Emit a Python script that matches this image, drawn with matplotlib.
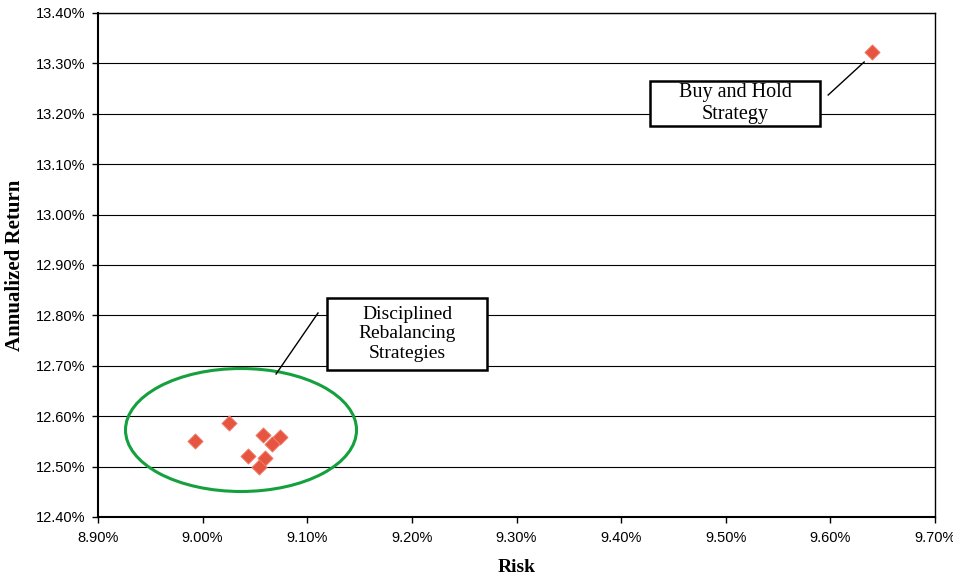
import matplotlib
matplotlib.use("Agg")
import matplotlib.pyplot as plt
from matplotlib.patches import Ellipse, Rectangle
from matplotlib.ticker import FuncFormatter

# Data (percent units)
rebal_risk = [8.993, 9.025, 9.0575, 9.074, 9.066, 9.043, 9.060, 9.054]
rebal_return = [12.551, 12.586, 12.563, 12.559, 12.545, 12.522, 12.518, 12.500]
bh_risk = [9.640]
bh_return = [13.323]

x_ticks = [8.90, 9.00, 9.10, 9.20, 9.30, 9.40, 9.50, 9.60, 9.70]
y_ticks = [12.40, 12.50, 12.60, 12.70, 12.80, 12.90, 13.00, 13.10, 13.20, 13.30, 13.40]

fig = plt.figure(figsize=(9.54, 5.79), dpi=100)
ax = fig.add_axes([98/954, 62/579, (935-98)/954, (517-13)/579])

ax.set_xlim(8.90, 9.70)
ax.set_ylim(12.40, 13.40)
ax.set_xticks(x_ticks)
ax.set_yticks(y_ticks)
fmt = FuncFormatter(lambda v, p: f"{v:.2f}%")
ax.xaxis.set_major_formatter(fmt)
ax.yaxis.set_major_formatter(fmt)
ax.tick_params(axis='both', direction='out', length=4, width=1, labelsize=10.5, colors='black')
for lab in ax.get_xticklabels() + ax.get_yticklabels():
    lab.set_fontfamily('Liberation Sans')
ax.tick_params(axis='y', pad=5)
ax.tick_params(axis='x', pad=6)

ax.grid(axis='y', color='black', linewidth=0.8)
ax.set_axisbelow(True)
for s in ax.spines.values():
    s.set_linewidth(1.0)
ax.spines['left'].set_linewidth(1.5)
ax.spines['bottom'].set_linewidth(1.5)

mcolor = '#E5553F'
ax.scatter(rebal_risk, rebal_return, marker='D', s=60, color=mcolor,
           edgecolor='#F0806E', linewidth=0.6, zorder=5)
ax.scatter(bh_risk, bh_return, marker='D', s=60, color=mcolor,
           edgecolor='#F0806E', linewidth=0.6, zorder=5)

# Ellipse around rebalancing strategies
ell = Ellipse((9.0367, 12.5726), width=0.2208, height=0.244, fill=False,
              edgecolor='#14A03C', linewidth=2.2, zorder=4)
ax.add_patch(ell)

serif = 'Liberation Serif'

# Rebalancing label box
ax.add_patch(Rectangle((9.1189, 12.6917), 0.1530, 0.1428, facecolor='white',
                       edgecolor='black', linewidth=1.8, zorder=6))
ax.text(9.1954, 12.7631, "Disciplined\nRebalancing\nStrategies", ha='center', va='center',
        fontsize=14, family=serif, linespacing=1.2, zorder=7)
ax.plot([9.1103, 9.0702], [12.8048, 12.6837], color='black', linewidth=1.0, zorder=6)

# Buy and hold label box
ax.add_patch(Rectangle((9.4277, 13.1758), 0.1625, 0.0893, facecolor='white',
                       edgecolor='black', linewidth=1.8, zorder=6))
ax.text(9.5090, 13.2204, "Buy and Hold\nStrategy", ha='center', va='center',
        fontsize=14.5, family=serif, linespacing=1.2, zorder=7)
ax.plot([9.5979, 9.6323], [13.2373, 13.3028], color='black', linewidth=1.0, zorder=6)

ax.set_xlabel("Risk", family=serif, fontweight='bold', fontsize=14, labelpad=10)
ax.set_ylabel("Annualized Return", family=serif, fontweight='bold', fontsize=15, labelpad=8)

fig.savefig("out.png", dpi=100)
